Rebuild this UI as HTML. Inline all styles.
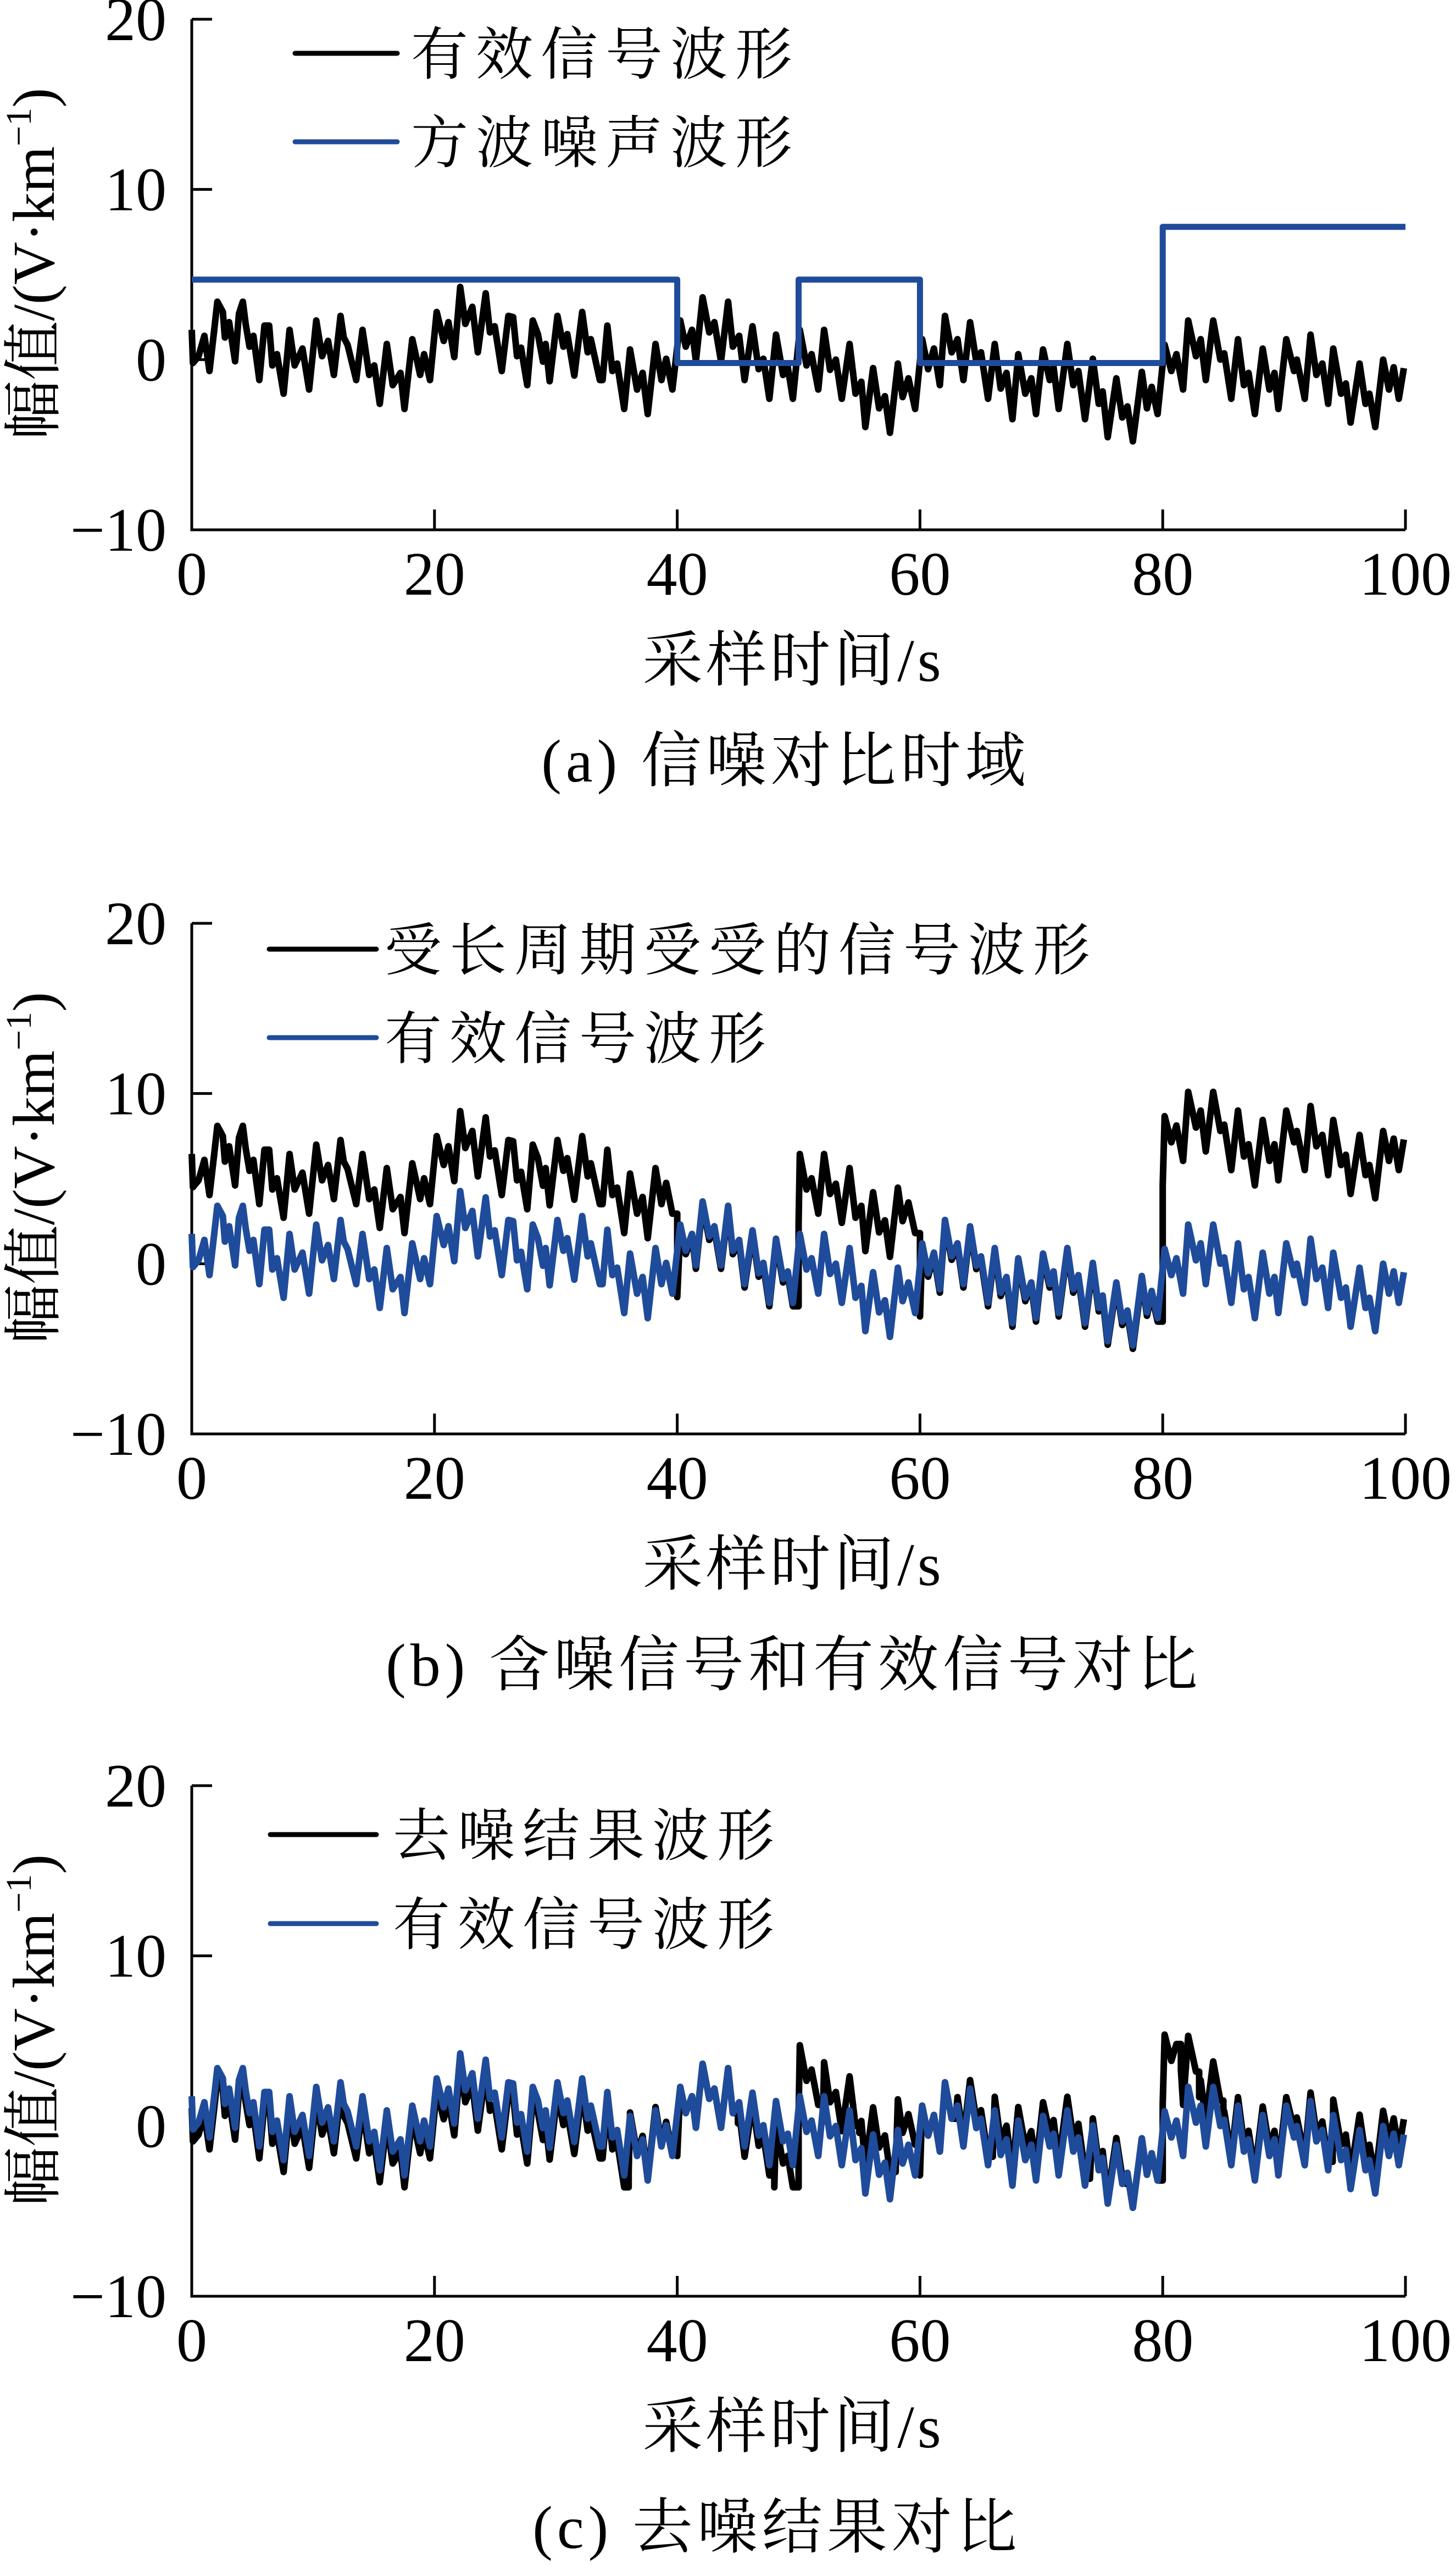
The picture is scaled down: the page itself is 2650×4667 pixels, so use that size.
<!DOCTYPE html>
<html><head><meta charset="utf-8">
<style>
html,body{margin:0;padding:0;background:#fff;}
svg{display:block;}
text{font-family:"Liberation Serif","Noto Serif CJK SC",serif;fill:#000;}
</style></head>
<body>
<svg id="fig" xmlns="http://www.w3.org/2000/svg" width="2650" height="4667" viewBox="0 0 2650 4667"></svg>
<script>
// ---- data ----
const times=[0.0,0.1,0.56,1.04,1.46,1.85,2.11,2.56,2.73,3.08,3.57,3.89,4.21,4.44,4.76,5.08,5.57,5.99,6.38,6.64,7.02,7.57,8.06,8.48,9.12,9.67,10.26,10.74,11.23,11.71,12.26,12.52,12.84,13.55,14.07,14.62,15.04,15.49,16.07,16.56,17.2,17.53,18.17,18.82,19.14,19.63,20.18,20.76,21.15,21.63,22.12,22.54,23.12,23.57,24.22,24.57,24.96,25.54,26.09,26.48,26.8,27.13,27.64,28.1,28.52,28.94,29.16,29.49,30.13,30.62,30.94,31.52,32.17,32.62,32.88,33.62,33.85,34.24,34.66,35.05,35.63,36.11,36.69,37.15,37.57,38.21,38.7,39.09,39.6,40.25,40.7,41.22,41.54,42.09,42.64,43.06,43.61,44.19,44.58,45.1,45.55,46.2,46.71,47.1,47.59,48.14,48.72,49.11,49.53,50.1,50.65,51.07,51.62,52.1,52.59,53.07,53.56,54.2,54.69,55.17,55.5,56.14,56.63,57.11,57.53,58.18,58.57,59.05,59.6,60.18,60.67,61.15,61.64,62.06,62.61,63.09,63.58,64.13,64.64,65.03,65.61,66.16,66.65,67.13,67.62,68.1,68.68,69.17,69.56,70.14,70.69,71.01,71.43,72.14,72.63,73.05,73.6,74.24,74.73,75.05,75.47,76.18,76.67,77.09,77.54,78.28,78.7,79.09,79.58,80.16,80.71,81.13,81.68,82.1,82.74,83.13,83.55,84.16,84.75,85.07,85.65,86.2,86.69,87.07,87.59,88.24,88.79,89.21,89.53,90.18,90.82,91.05,91.7,92.18,92.66,93.15,93.63,94.05,94.7,95.09,95.48,96.22,96.71,97.03,97.51,98.16,98.64,99.03,99.45,99.87];
const signalVals=[1.75,-0.2,0.2,1.4,-0.67,1.75,3.4,2.8,1.3,2.2,-0.1,2.7,3.4,2.1,0.76,1.4,-1.2,2.0,2.0,-0.34,0.32,-2.0,1.75,-0.34,0.65,-1.76,2.3,0.2,1.1,-0.9,2.57,1.3,0.87,-1.2,1.75,-0.9,-0.34,-2.6,0.92,-1.5,-0.78,-2.9,1.2,-0.9,0.32,-1.2,2.8,1.1,2.2,0.15,4.27,2.1,3.1,0.43,3.9,1.6,1.96,-0.67,2.57,2.5,0.2,0.7,-1.5,2.3,1.5,-0.12,0.92,-1.27,2.57,0.76,1.5,-0.94,2.8,0.43,1.2,-1.2,-1.2,2.0,-0.67,-0.23,-2.9,0.6,-1.76,-0.78,-3.2,0.92,-1.2,0.05,-1.76,2.3,0.76,1.75,-0.1,3.66,1.6,2.2,-0.1,3.4,0.76,1.4,-1.2,1.96,-0.56,0.05,-2.3,1.47,-0.9,-0.45,-2.3,1.75,-0.34,0.32,-1.76,1.75,-0.6,0.0,-2.3,0.92,-2.0,-1.3,-3.96,-0.5,-2.86,-2.15,-4.3,-0.23,-2.2,-1.1,-2.9,1.2,-0.56,0.65,-1.5,2.57,0.43,1.2,-1.2,2.2,-0.12,0.43,-2.3,0.92,-1.7,-0.78,-3.5,0.32,-2.0,-1.1,-3.2,0.6,-1.2,-0.45,-2.9,0.92,-1.5,-0.67,-3.5,0.05,-2.6,-1.87,-4.56,-1.1,-3.4,-2.75,-4.8,-0.72,-2.86,-1.6,-3.2,0.87,-0.67,0.32,-1.76,2.3,0.2,1.2,-1.2,2.3,0.0,0.37,-2.3,1.2,-1.5,-0.78,-3.2,0.65,-1.76,-0.78,-2.9,1.2,-0.67,0.0,-2.3,1.47,-0.9,-0.23,-2.6,0.65,-2.0,-1.4,-3.7,-0.23,-2.6,-2.0,-3.96,0.0,-1.76,-0.45,-2.3,-0.5];
const noiseStarts=[0,40,50,60,80];
const noiseLevels=[4.7,-0.2,4.7,-0.2,7.8];
const residualStarts=[0,36,40,45,48,50,52,55,58,60,63,66,74,77,80,81.5,83,85,94];
const residualVals=[-0.7,0.2,0,-0.6,-1.3,3.0,2.0,1.6,1.8,0,0.5,0.8,0.4,0,4.5,3.0,1.5,0.5,0.9];
const xTicks=[0,20,40,60,80,100];
const yTicks=[20,10,0,-10];
const yTickLabels=["20","10","0","\u221210"];
const panelTops=[35,1680,3249];
const legendA=["有效信号波形","方波噪声波形"];
const legendB=["受长周期受受的信号波形","有效信号波形"];
const legendC=["去噪结果波形","有效信号波形"];
const captions=["(a)  信噪对比时域","(b)  含噪信号和有效信号对比","(c)  去噪结果对比"];

const NS="http://www.w3.org/2000/svg";
const svg=document.getElementById('fig');
const BLUE="#1f4b9b";
const X0=349,X1=2558,H=929,YMIN=-10,YMAX=20;
function mk(tag,attrs,parent){const e=document.createElementNS(NS,tag);for(const k in attrs)e.setAttribute(k,attrs[k]);(parent||svg).appendChild(e);return e;}
function stepAt(starts,vals,t){let v=vals[0];for(let i=0;i<starts.length;i++){if(t>=starts[i])v=vals[i];}return v;}

function series(starts,vals){
  const pts=[];
  for(let i=0;i<times.length;i++){
    if(starts&&i>0){
      for(let k=1;k<starts.length;k++){
        const b=starts[k];
        if(times[i-1]<b&&times[i]>=b){
          const sp=signalVals[i-1];
          pts.push([b,sp+vals[k-1]]);
          pts.push([b,sp+vals[k]]);
        }
      }
    }
    const off=starts?stepAt(starts,vals,times[i]):0;
    pts.push([times[i],signalVals[i]+off]);
  }
  return pts;
}

function panel(idx){
  const top=panelTops[idx],bot=top+H;
  const g=mk('g',{});
  
  
  const sx=t=>X0+(t/100)*(X1-X0);
  const sy=v=>bot-(v-YMIN)/(YMAX-YMIN)*H;
  const pathOf=pts=>pts.map((p,i)=>(i?'L':'M')+sx(p[0]).toFixed(1)+' '+sy(p[1]).toFixed(1)).join(' ');
  const ax=mk('path',{d:`M${X0} ${top} V${bot} H${X1}`,fill:'none',stroke:'#000','stroke-width':5},g);
  
  
  yTicks.forEach((v,i)=>{
    const y=sy(v);
    if(v!==YMIN){const tk=mk('line',{x1:X0,x2:X0+37,y1:y,y2:y,stroke:'#000','stroke-width':5},g);
      
      }
    const tl=mk('text',{x:303,y:y+38,'font-size':112,'text-anchor':'end'},g);
    tl.textContent=yTickLabels[i];
    
    
  });
  xTicks.forEach(v=>{
    const x=sx(v);
    if(v!==0){const tk=mk('line',{x1:x,x2:x,y1:bot,y2:bot-37,stroke:'#000','stroke-width':5},g);
      
      }
    const tl=mk('text',{x:x,y:bot+118,'font-size':112,'text-anchor':'middle'},g);
    tl.textContent=String(v);
    
    
  });
  const yt=mk('text',{transform:`translate(98 ${top+445}) rotate(-90)`,'font-size':108,'text-anchor':'middle'},g);
  
  
  yt.appendChild(document.createTextNode('幅值/(V·km'));
  const sup=mk('tspan',{'font-size':66,dy:-42},yt);sup.textContent='\u22121';
  const cl=mk('tspan',{'font-size':108,dy:42},yt);cl.textContent=')';
  const xt=mk('text',{x:1444,y:bot+275,'font-size':110,'text-anchor':'middle','letter-spacing':6},g);
  xt.textContent='采样时间/s';
  
  
  const cap=mk('text',{x:[1430,1445,1414][idx],y:bot+458,'font-size':110,'text-anchor':'middle','letter-spacing':8},g);
  cap.textContent=captions[idx];
  
  

  let black,blue,bName,lName;
  if(idx===0){
    black=series(null,null);
    const sq=[];
    for(let k=0;k<noiseStarts.length;k++){
      const end=k+1<noiseStarts.length?noiseStarts[k+1]:100;
      sq.push([noiseStarts[k],noiseLevels[k]]);sq.push([end,noiseLevels[k]]);
    }
    blue=sq;bName='signal-line';lName='square-noise-line';
  }else if(idx===1){
    black=series(noiseStarts,noiseLevels);blue=series(null,null);bName='noisy-signal-line';lName='signal-line';
  }else{
    black=series(residualStarts,residualVals);blue=series(null,null);bName='denoised-line';lName='signal-line';
  }
  const p1=mk('path',{d:pathOf(black),fill:'none',stroke:'#000','stroke-width':12,'stroke-linejoin':'round'},g);
  
  
  const p2=mk('path',{d:pathOf(blue),fill:'none',stroke:BLUE,'stroke-width':idx===0?11:12,'stroke-linejoin':'round'},g);
  
  

  const labels=[legendA,legendB,legendC][idx];
  const ly=[[97,258],[1727,1888],[3338,3500]][idx];
  const lx=[[537,723,748],[490,685,700],[492,685,715]][idx];
  [0,1].forEach(j=>{
    const ln=mk('line',{x1:lx[0],x2:lx[1],y1:ly[j],y2:ly[j],stroke:j?BLUE:'#000','stroke-width':9,'stroke-linecap':'round'},g);
    
    
    const lt=mk('text',{x:lx[2],y:ly[j]+38,'font-size':104,'letter-spacing':14},g);
    lt.textContent=labels[j];
    
    
  });
}
[0,1,2].forEach(panel);
</script>
</body></html>
